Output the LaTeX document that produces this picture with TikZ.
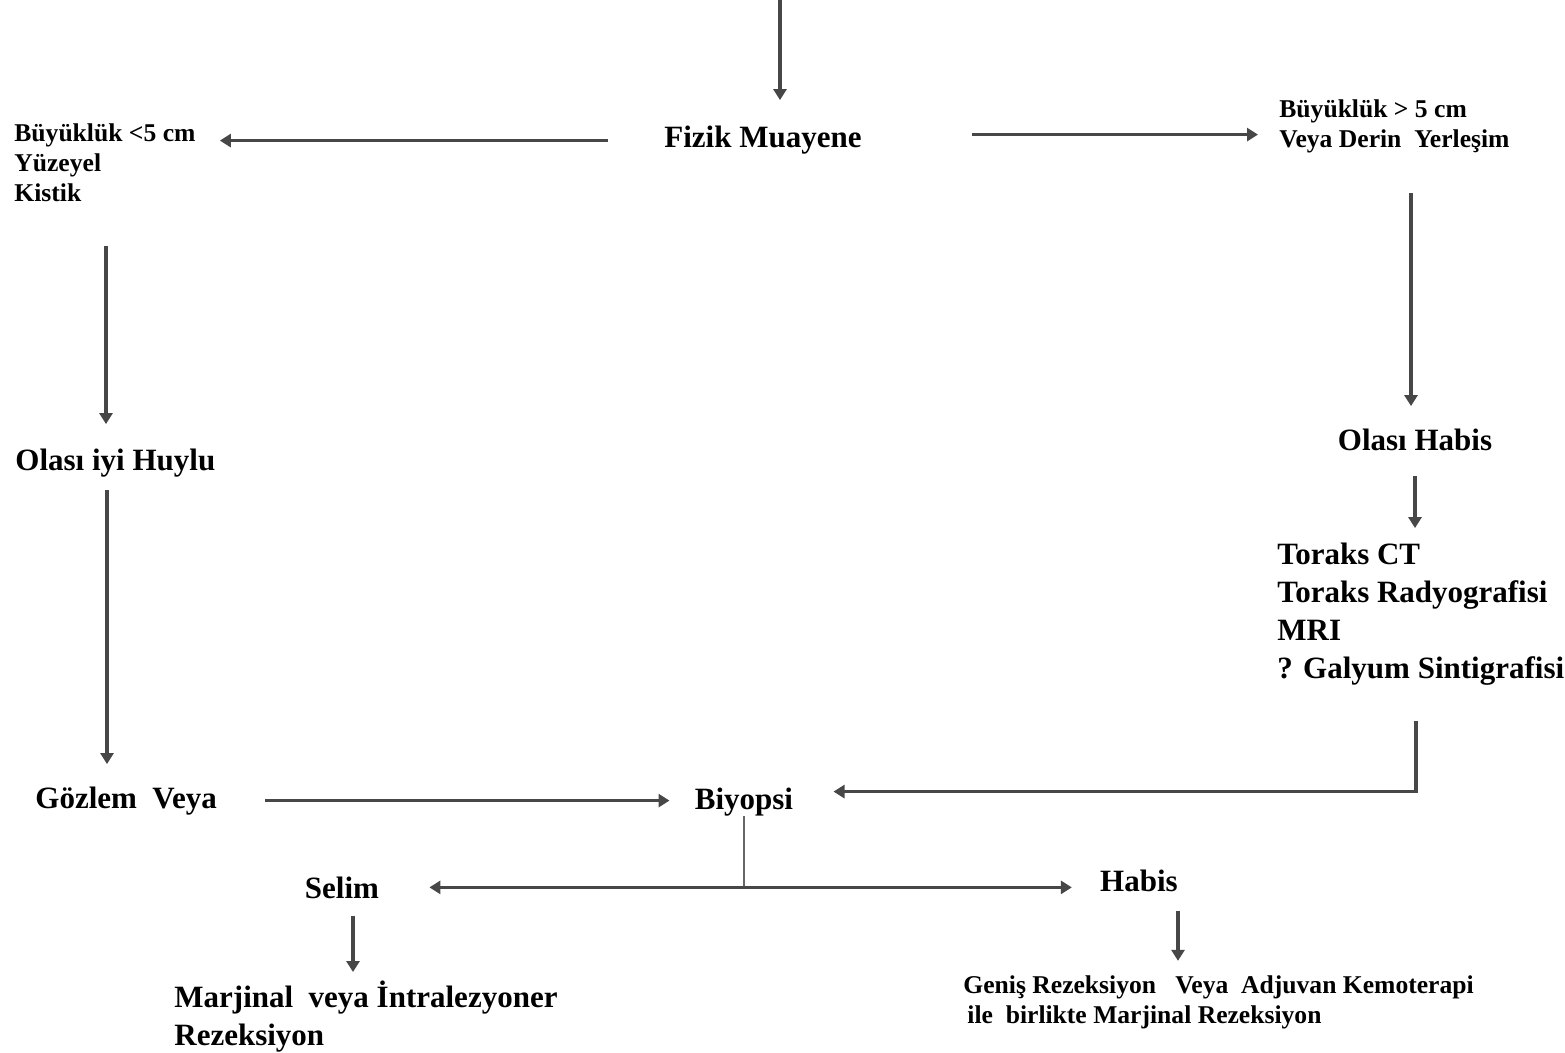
\documentclass[tikz,border=0pt]{standalone}
\usepackage{fontspec}
\setmainfont{Liberation Serif}
\usetikzlibrary{arrows.meta}

\begin{document}
\begin{tikzpicture}[x=0.5pt,y=-0.5pt,
  buyukyazi/.style={font=\fontsize{15.5}{19}\selectfont\bfseries, inner sep=0pt},
  kucukyazi/.style={font=\fontsize{12.8}{15}\selectfont\bfseries, inner sep=0pt, align=left},
  cizgi/.style={draw=black!72, line width=1.8pt},
  ok/.style={cizgi, -{Triangle[width=6.5pt,length=5.5pt]}}]
\useasboundingbox (0,0) rectangle (1565,1053);
\coordinate (Giris) at (780,0);
\node (Fizik) [buyukyazi, anchor=base] at (763,148) {Fizik Muayene};
\node (Kucuk) [kucukyazi, anchor=base west] at (14,202) {Büyüklük <5 cm\\Yüzeyel\\Kistik};
\node (Buyuk) [kucukyazi, anchor=base west] at (1279,148) {Büyüklük > 5 cm\\Veya Derin~ Yerleşim};
\node (IyiHuylu) [buyukyazi, anchor=base west] at (15,471) {Olası iyi Huylu};
\node (OlasiHabis) [buyukyazi, anchor=base] at (1415,451) {Olası Habis};
\node (Toraks) [buyukyazi, align=left, anchor=base west] at (1277,678) {Toraks CT\\Toraks Radyografisi\\MRI\\? Galyum Sintigrafisi};
\node (Gozlem) [buyukyazi, anchor=base west] at (35,808) {Gözlem~ Veya};
\node (Biyopsi) [buyukyazi, anchor=base] at (744,809) {Biyopsi};
\node (Selim) [buyukyazi, anchor=base] at (342,898) {Selim};
\node (Habis) [buyukyazi, anchor=base] at (1139,891) {Habis};
\node (Marjinal) [buyukyazi, align=left, anchor=base west] at (174,1045) {Marjinal~ veya İntralezyoner\\Rezeksiyon};
\node (Genis) [kucukyazi, anchor=base west] at (963,1023) {Geniş Rezeksiyon~~ Veya~ Adjuvan Kemoterapi\\\hspace{2pt}ile~ birlikte Marjinal Rezeksiyon};

\draw[ok, shorten >=13pt] (Giris) -- (Giris |- Fizik.north);
\draw[ok, shorten <=28pt, shorten >=12pt] (Fizik.west) -- (Kucuk.east |- Fizik.west);
\draw[ok, shorten <=55pt, shorten >=10.5pt] ([yshift=3pt]Fizik.east) -- ([yshift=3pt]Fizik.east -| Buyuk.west);
\draw[ok, shorten <=21.5pt, shorten >=12.5pt] ([xshift=46pt]Kucuk.south west) -- ([xshift=46pt]Kucuk.south west |- IyiHuylu.north);
\draw[ok, shorten <=6pt, shorten >=11pt] ([xshift=46pt]IyiHuylu.south west) -- ([xshift=46pt]IyiHuylu.south west |- Gozlem.north);
\draw[ok, shorten <=24pt, shorten >=12.5pt] (Gozlem.east) -- (Gozlem.east -| Biyopsi.west);
\draw[ok, shorten <=19.5pt, shorten >=11.5pt] ([xshift=-2pt]Buyuk.south -| OlasiHabis.north) -- ([xshift=-2pt]OlasiHabis.north);
\draw[ok, shorten <=12pt, shorten >=7pt] (OlasiHabis.south) -- (OlasiHabis.south |- Toraks.north);
\draw[ok, shorten <=18pt, shorten >=20pt] ([xshift=-2.5pt]Toraks.south) |- ([yshift=5pt]Biyopsi.east);
\draw[cizgi, line width=1.4pt, draw=black!60] (Biyopsi.south) -- (Biyopsi.south |- Selim.east);
\draw[ok, shorten >=25pt] (Biyopsi.south |- Selim.east) -- (Selim.east);
\draw[ok, shorten >=14pt] (Biyopsi.south |- Selim.east) -- (Selim.east -| Habis.west);
\draw[ok, shorten <=8.5pt, shorten >=4pt] ([xshift=5.5pt]Selim.south) -- ([xshift=5.5pt]Selim.south |- Marjinal.north);
\draw[ok, shorten <=9.5pt, shorten >=7pt] ([xshift=19.5pt]Habis.south) -- ([xshift=19.5pt]Habis.south |- Genis.north);
\end{tikzpicture}
\end{document}
